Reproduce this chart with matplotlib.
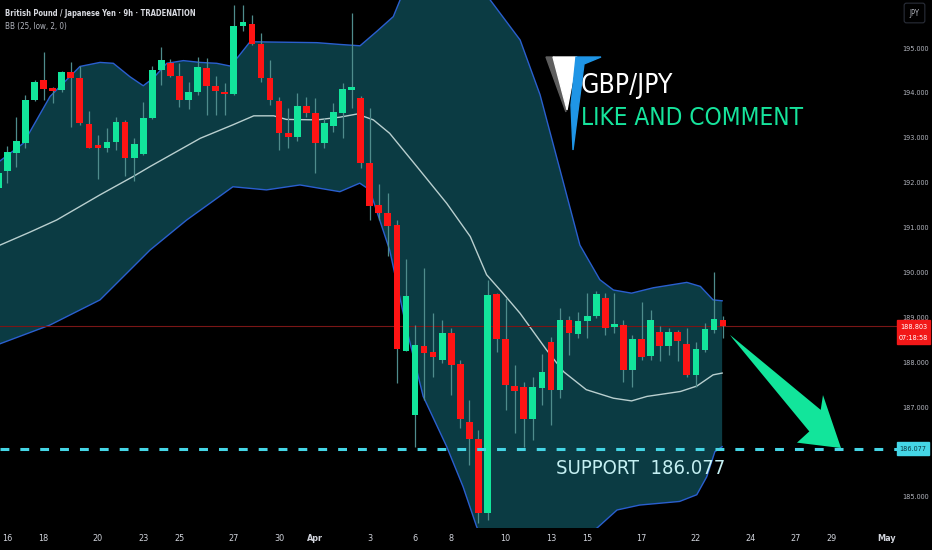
import numpy as np
import matplotlib.pyplot as plt
from matplotlib import font_manager as fm
from matplotlib.patches import Polygon, Rectangle
from matplotlib.transforms import blended_transform_factory


def pick_font(keys):
    for key in keys:
        for f in fm.fontManager.ttflist:
            if f.fname.endswith(key):
                return fm.FontProperties(fname=f.fname)
    return None


NARROW = pick_font(['LiberationSansNarrow-Regular.ttf', 'DejaVuSansCondensed.ttf'])
NARROW_B = pick_font(['LiberationSansNarrow-Bold.ttf', 'DejaVuSansCondensed-Bold.ttf'])
if NARROW is None:
    NARROW = fm.FontProperties(family='Liberation Sans')
if NARROW_B is None:
    NARROW_B = fm.FontProperties(family='Liberation Sans', weight='bold')

# 9h candles, index 0 = left edge of the picture
opens = [191.88, 192.25, 192.67, 192.89, 193.84, 194.28, 194.10, 194.07, 194.46, 194.34,
         193.31, 192.81, 192.77, 192.91, 193.35, 192.55, 192.63, 193.44, 194.50, 194.66,
         194.38, 193.84, 194.01, 194.56, 194.16, 194.03, 193.98, 195.49, 195.54, 195.09,
         194.33, 193.81, 193.10, 193.01, 193.71, 193.56, 192.88, 193.27, 193.55, 194.07,
         193.88, 192.43, 191.51, 191.32, 191.05, 188.26, 186.83, 188.37, 188.23, 188.04,
         188.65, 187.96, 186.68, 186.29, 184.64, 189.52, 188.51, 187.48, 187.45, 186.73,
         187.42, 188.45, 187.39, 188.94, 188.63, 188.91, 189.03, 189.43, 188.78, 188.83,
         187.82, 188.51, 188.13, 188.68, 188.37, 188.68, 188.41, 187.72, 188.28, 188.71,
         188.94]
closes = [192.21, 192.69, 192.92, 193.84, 194.25, 194.09, 194.05, 194.46, 194.33, 193.33,
          192.78, 192.78, 192.90, 193.36, 192.55, 192.86, 193.45, 194.51, 194.74, 194.38,
          193.84, 194.03, 194.57, 194.16, 194.05, 193.98, 195.49, 195.59, 195.09, 194.33,
          193.84, 193.10, 193.01, 193.71, 193.56, 192.88, 193.34, 193.57, 194.08, 194.14,
          192.43, 191.48, 191.32, 191.04, 188.29, 189.48, 188.39, 188.20, 188.11, 188.65,
          187.94, 186.73, 186.29, 184.64, 189.50, 188.51, 187.50, 187.35, 186.73, 187.44,
          187.79, 187.39, 188.94, 188.65, 188.92, 189.03, 189.52, 188.76, 188.85, 187.83,
          188.51, 188.11, 188.94, 188.37, 188.68, 188.48, 187.72, 188.30, 188.74, 188.96,
          188.80]
highs = [192.36, 192.81, 193.47, 193.96, 194.29, 194.91, 194.14, 194.48, 194.70, 194.59,
         193.59, 193.07, 193.21, 193.47, 193.40, 192.99, 193.79, 194.59, 195.02, 194.75,
         194.66, 194.25, 194.80, 194.77, 194.38, 194.22, 195.96, 195.96, 195.74, 195.33,
         194.74, 193.92, 193.66, 193.99, 193.92, 193.88, 193.44, 193.78, 194.22, 195.77,
         193.93, 193.66, 191.97, 191.77, 191.17, 190.30, 188.83, 190.10, 189.09, 188.95,
         188.76, 188.05, 187.16, 186.50, 189.84, 189.54, 189.43, 187.94, 187.57, 187.68,
         188.19, 188.57, 189.20, 189.02, 189.11, 189.55, 189.58, 189.55, 189.54, 188.94,
         188.61, 189.35, 189.17, 188.80, 188.76, 188.72, 188.76, 188.46, 188.87, 190.01,
         189.03]
lows = [191.84, 191.99, 192.36, 192.77, 193.81, 193.84, 193.77, 194.03, 193.25, 193.29,
        192.77, 192.08, 192.69, 192.73, 192.15, 192.03, 192.62, 193.43, 194.18, 194.36,
        193.68, 193.64, 193.96, 193.51, 193.51, 193.51, 193.96, 195.37, 195.07, 194.25,
        193.73, 192.73, 192.77, 192.92, 193.47, 192.21, 192.77, 193.14, 192.99, 193.66,
        192.32, 191.17, 191.17, 190.36, 187.53, 188.26, 186.12, 187.16, 187.68, 187.98,
        187.27, 186.53, 185.72, 184.42, 184.49, 188.24, 186.94, 186.42, 186.12, 186.27,
        187.05, 186.61, 187.20, 188.17, 188.54, 188.54, 188.98, 188.61, 188.65, 187.57,
        187.46, 188.05, 188.05, 188.02, 188.17, 188.02, 187.68, 187.46, 188.24, 188.65,
        188.54]

# Bollinger bands (25, low, 2)
upper_k = [-0.5, 2.77, 5.71, 9.02, 11.23, 12.70, 14.54, 16.0, 17.11, 18.59, 20.43, 22.27, 24.11,
           25.58, 26.5, 27.79, 31.46, 35.15, 37.72, 39.93, 41.77, 43.6, 44.35, 46.5, 50.0, 52.5,
           54.3, 57.6, 59.8, 62.0, 64.2, 66.4, 67.9, 69.9, 72.3, 76.0, 77.5, 78.9, 79.9]
upper_p = [192.38, 192.88, 193.92, 194.59, 194.68, 194.66, 194.36, 194.16, 194.33, 194.66, 194.72,
           194.68, 194.66, 194.60, 194.81, 195.14, 195.13, 195.12, 195.08, 195.05, 195.37, 195.70,
           196.07, 196.70, 197.00, 196.60, 196.07, 195.18, 193.96, 192.29, 190.61, 189.84, 189.61,
           189.54, 189.66, 189.78, 189.69, 189.39, 189.37]
mid_k = [-0.5, 3.5, 6.45, 11.23, 14.9, 16.75, 22.3, 25.9, 28.2, 30.4, 31.8, 35.2, 37.7, 39.6, 41.4,
         43.2, 46.2, 49.5, 52.1, 53.9, 55.7, 57.6, 60.5, 62.4, 64.9, 67.9, 69.9, 71.6, 75.3, 77.1,
         78.9, 79.9]
mid_p = [190.55, 190.90, 191.17, 191.73, 192.14, 192.36, 192.99, 193.29, 193.49, 193.49, 193.41,
         193.40, 193.46, 193.53, 193.40, 193.10, 192.36, 191.54, 190.80, 189.95, 189.54, 189.09,
         188.28, 187.79, 187.39, 187.20, 187.14, 187.24, 187.35, 187.47, 187.72, 187.76]
low_k = [-0.5, 5.71, 11.23, 16.75, 20.8, 25.9, 29.6, 33.3, 37.7, 39.9, 41.0, 43.2, 45.1, 46.9, 49.5,
         51.3, 52.8, 55.0, 58.0, 61.0, 63.5, 66.1, 68.3, 70.8, 75.2, 77.1, 78.2, 79.1, 79.9]
low_p = [188.36, 188.83, 189.39, 190.50, 191.17, 191.91, 191.84, 191.95, 191.80, 191.99, 191.84,
         190.50, 188.72, 187.24, 186.12, 185.23, 184.34, 183.30, 183.10, 183.30, 184.00, 184.31,
         184.71, 184.82, 184.90, 185.05, 185.45, 186.01, 186.12]

date_pos = [1, 5, 11, 16, 20, 26, 31, 35, 41, 46, 50, 56, 61, 65, 71, 77, 83, 88, 92, 98]
date_lbl = ['16', '18', '20', '23', '25', '27', '30', 'Apr', '3', '6', '8', '10', '13', '15',
            '17', '22', '24', '27', '29', 'May']
price_ticks = [185, 187, 188, 189, 190, 191, 192, 193, 194, 195]
support = 186.077
last_price = 188.803

GREEN = '#12e59b'
RED = '#ff1414'
W, H = 932, 550


def fp(base, size):
    p = base.copy()
    p.set_size(size)
    return p


fig = plt.figure(figsize=(W / 100, H / 100), dpi=100, facecolor='black')
ax = fig.add_axes([0, 22.5 / H, 897 / W, 527.5 / H])
ax.set_facecolor('black')
for s in ax.spines.values():
    s.set_visible(False)

# bands
ax.fill(np.concatenate([upper_k, low_k[::-1]]), np.concatenate([upper_p, low_p[::-1]]),
        color='#0b3b43', lw=0, zorder=1)
ax.plot(upper_k, upper_p, color='#2a5fcf', lw=1, zorder=2)
ax.plot(low_k, low_p, color='#2a5fcf', lw=1, zorder=2)
ax.plot(mid_k, mid_p, color='#b9cfcf', lw=1, zorder=2)

# current price line
ax.axhline(last_price, color='#7a1616', lw=0.8, zorder=2)

# candles
o = np.array(opens); c = np.array(closes)
idx = np.arange(len(o))
cols = np.where(c >= o, GREEN, RED)
ax.vlines(idx, lows, highs, color='#4f8c8c', lw=0.9, zorder=3)
body = np.maximum(np.abs(c - o), 0.05)
ax.bar(idx, body, bottom=np.minimum(o, c), width=0.74, color=cols, lw=0, zorder=4)

# support line
ax.axhline(support, color='#45d6e6', lw=2.2, dashes=(2.9, 3.6), zorder=5)
ax.text(70.9, 185.63, 'SUPPORT  186.077', color='#c4eff2', fontproperties=fp(NARROW, 14.5),
        ha='center', va='center', zorder=6)

# arrow toward the support
arrow = [(80.77, 188.61), (90.78, 186.94), (91.03, 187.27), (93.02, 186.09),
         (88.16, 186.21), (89.52, 186.46), (81.1, 188.52)]
ax.add_patch(Polygon(arrow, closed=True, color=GREEN, lw=0, zorder=6))

ax.set_xlim(0.19, 99.2)
ax.set_ylim(184.32, 196.07)

ax.yaxis.tick_right()
ax.set_yticks(price_ticks)
ax.set_yticklabels([f'{v:.3f}' for v in price_ticks])
ax.tick_params(axis='y', length=0, pad=3.5, labelcolor='#b2b5be')
for t in ax.get_yticklabels():
    t.set_fontproperties(fp(NARROW, 5.2))
ax.set_xticks(date_pos)
ax.set_xticklabels(date_lbl)
ax.tick_params(axis='x', length=0, pad=5, labelcolor='#d1d4dc')
for t in ax.get_xticklabels():
    t.set_fontproperties(fp(NARROW_B if t.get_text() in ('Apr', 'May') else NARROW, 6.5))


def px(x, y):
    return (x / W, 1 - y / H)


# logo + title text
fig.patches.append(Polygon([px(546, 57), px(554, 57), px(566, 112)], closed=True,
                           color='#5e5e5e', transform=fig.transFigure, zorder=7))
fig.patches.append(Polygon([px(553, 57), px(577, 57), px(567, 110)], closed=True,
                           color='white', transform=fig.transFigure, zorder=7))
fig.patches.append(Polygon([px(576, 57), px(601, 57), px(584, 64), px(573, 150), px(571, 105)],
                           closed=True, color='#1f95e6', transform=fig.transFigure, zorder=7))
fig.text(*px(581, 86), 'GBP/JPY', color='white', fontproperties=fp(NARROW, 19),
         va='center', ha='left')
fig.text(*px(581, 118), 'LIKE AND COMMENT', color='#16e49c', fontproperties=fp(NARROW, 17.5),
         va='center', ha='left')

# header
fig.text(*px(5, 13), 'British Pound / Japanese Yen · 9h · TRADENATION', color='#d8dae0',
         fontproperties=fp(NARROW_B, 5.5), va='center')
fig.text(*px(5, 27), 'BB (25, low, 2, 0)', color='#b2b5be', fontproperties=fp(NARROW, 5.8),
         va='center')

# JPY box
fig.text(*px(914.5, 13), 'JPY', color='#b2b5be', fontproperties=fp(NARROW, 5.5),
         ha='center', va='center',
         bbox=dict(boxstyle='round,pad=0.7,rounding_size=0.3', fc='black', ec='#2a2e39', lw=0.8))

# price labels on the axis
tr = blended_transform_factory(fig.transFigure, ax.transData)
fig.patches.append(Rectangle((897 / W, 188.41), 33 / W, 0.54, transform=tr, color='#f21818',
                             zorder=7))
fig.text(913.5 / W, last_price - 0.01, f'{last_price:.3f}', transform=tr, color='white',
         fontproperties=fp(NARROW, 5.2), ha='center', va='center', zorder=8)
fig.text(913.5 / W, 188.55, '07:18:58', transform=tr, color='white',
         fontproperties=fp(NARROW, 5.2), ha='center', va='center', zorder=8)
fig.patches.append(Rectangle((897 / W, support - 0.14), 32 / W, 0.28, transform=tr,
                             color='#45d6e6', zorder=7))
fig.text(913 / W, support, f'{support:.3f}', transform=tr, color='#0b3b43',
         fontproperties=fp(NARROW, 5.2), ha='center', va='center', zorder=8)

fig.savefig('out.png', dpi=100, facecolor='black')
